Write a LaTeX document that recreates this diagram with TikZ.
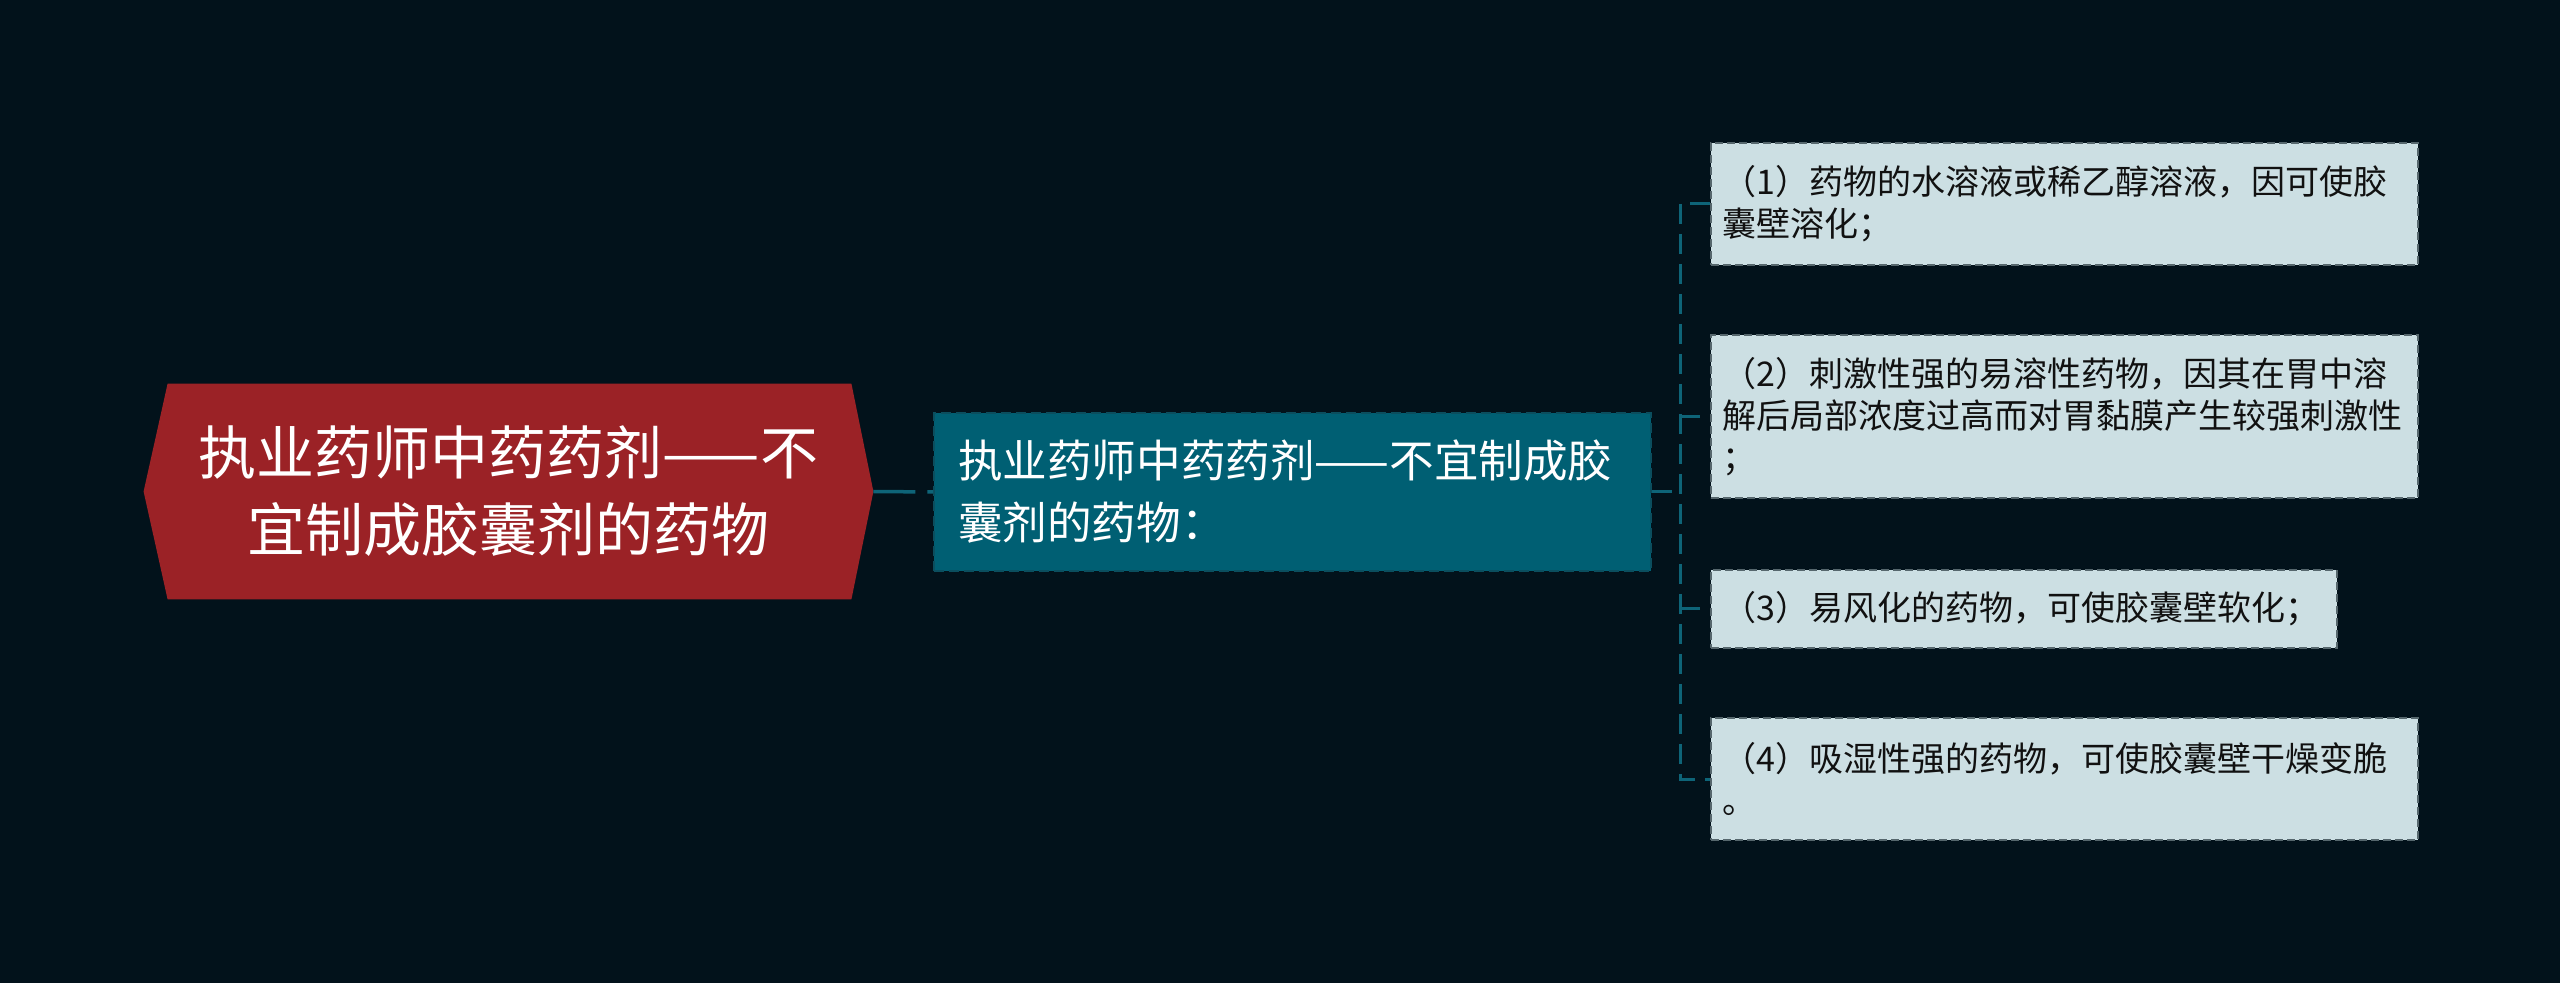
\documentclass[tikz,border=0pt]{standalone}
\usepackage{fontspec}
\setmainfont{Noto Sans CJK SC}
\usetikzlibrary{backgrounds}
\definecolor{bg}{HTML}{02121B}
\definecolor{rootred}{HTML}{9B2226}
\definecolor{midfill}{HTML}{005F73}
\definecolor{leaffill}{HTML}{CCDFE3}
\definecolor{linec}{HTML}{0E6478}
\definecolor{leafborder}{HTML}{56676D}
\definecolor{midborder}{HTML}{0B4E5E}
\definecolor{leaftext}{HTML}{111111}
\tikzset{
  rootbox/.style={minimum width=364.5pt, minimum height=107.5pt, inner sep=0pt,
    align=center, text=white, font=\fontsize{29pt}{38.5pt}\selectfont},
  midbox/.style={fill=midfill, draw=midborder, dash pattern=on 5pt off 2.5pt, line width=1pt,
    minimum height=79pt, inner xsep=12pt, inner ysep=0pt, text width=334.5pt,
    align=left, text=white, font=\fontsize{22.3pt}{31pt}\selectfont, anchor=west},
  leafbox/.style={fill=leaffill, draw=leafborder, dash pattern=on 4pt off 2pt, line width=0.8pt,
    inner xsep=6pt, inner ysep=0pt, text width=341.5pt, align=left, text=leaftext,
    font=\fontsize{17pt}{21pt}\selectfont, anchor=west},
  conn/.style={draw=linec, line width=1.75pt, dash pattern=on 21pt off 6pt},
  busline/.style={draw=linec, line width=1.5pt, dash pattern=on 10pt off 5pt},
}
\begin{document}
\begin{tikzpicture}[x=0.5pt,y=-0.5pt]
\useasboundingbox (0,0) rectangle (2560,983);
\node[rootbox] (root) at (508.5,491.5) {\mbox{执业药师中药药剂——不}\\\mbox{宜制成胶囊剂的药物}};
\begin{scope}[on background layer]
  \fill[bg] (0,0) rectangle (2560,983);
  \fill[rootred] ([xshift=12pt]root.north west) -- ([xshift=-11pt]root.north east) -- (root.east)
    -- ([xshift=-11pt]root.south east) -- ([xshift=12pt]root.south west) -- (root.west) -- cycle;
\end{scope}
\node[midbox] (mid) at (933,492) {\mbox{执业药师中药药剂——不宜制成胶}\\\mbox{囊剂的药物：}};
\node[leafbox, minimum height=61pt] (l1) at (1710,204) {\mbox{（1）药物的水溶液或稀乙醇溶液，因可使胶}\\囊壁溶化；};
\node[leafbox, minimum height=81.5pt] (l2) at (1710,416.5) {\mbox{（2）刺激性强的易溶性药物，因其在胃中溶}\\\mbox{解后局部浓度过高而对胃黏膜产生较强刺激性}\\；};
\node[leafbox, minimum height=39pt, text width=301pt] (l3) at (1710,609) {\mbox{（3）易风化的药物，可使胶囊壁软化；}};
\node[leafbox, minimum height=61pt] (l4) at (1710,779) {\mbox{（4）吸湿性强的药物，可使胶囊壁干燥变脆}\\。};
\coordinate (bus) at (1680,492);
\draw[conn] (root.east) -- (mid.west);
\draw[busline] (mid.east) -- (bus);
\draw[busline] (l1.west) -- (l1.west -| bus) -- (l4.west -| bus) -- (l4.west);
\draw[busline] (l2.west -| bus) -- (l2.west);
\draw[busline] (l3.west -| bus) -- (l3.west);
\end{tikzpicture}
\end{document}
